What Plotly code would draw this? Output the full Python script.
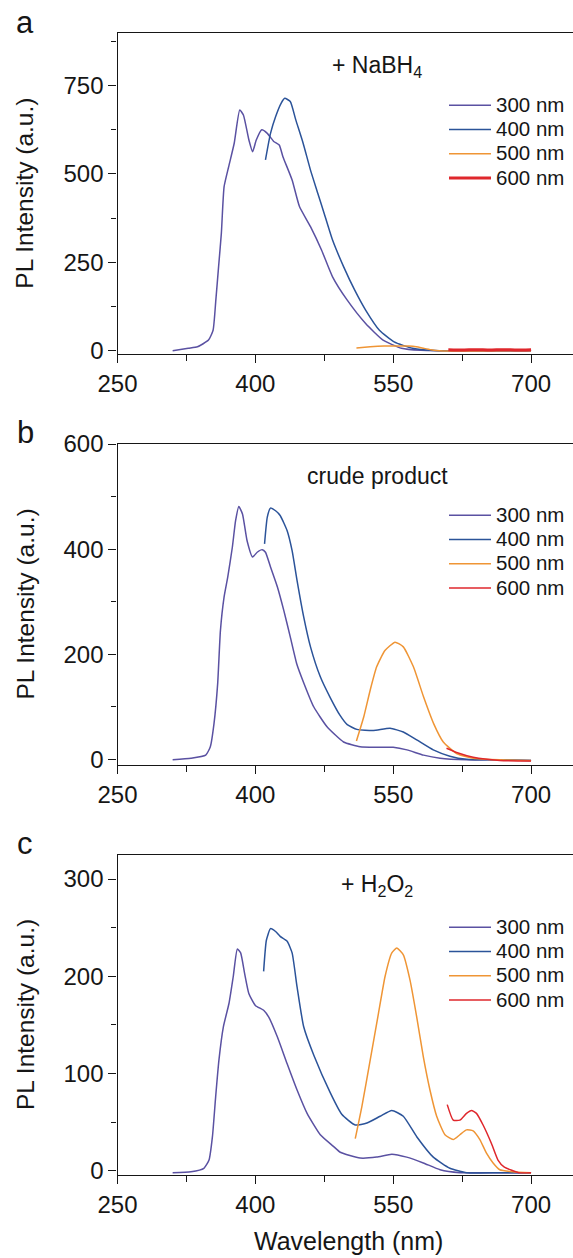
import plotly.graph_objects as go

# ---------------------------------------------------------------- data
# Emission spectra (wavelength in nm, PL intensity in a.u.) for four
# excitation wavelengths, under three sample conditions.
excitations = ["300 nm", "400 nm", "500 nm", "600 nm"]
colors = ["#5A51A2", "#2B5399", "#EF9535", "#DF272C"]

panel_letters = ["a", "b", "c"]
panel_notes = ["+ NaBH<sub>4</sub>", "crude product", "+ H<sub>2</sub>O<sub>2</sub>"]

x_ticks = [250, 400, 550, 700]

# (a) + NaBH4
a_300_nm = [310, 327, 337, 349, 354, 357, 360, 363, 366, 371, 377, 383, 387, 393, 397, 401,
            407, 413, 420, 426, 430, 440, 448, 460, 472, 484, 500, 520, 539, 559, 580, 600, 650, 700]
a_300_pl = [0, 7, 11, 30, 58, 143, 238, 332, 464, 521, 587, 681, 667, 596, 563, 596,
            625, 615, 592, 582, 549, 483, 408, 351, 285, 209, 143, 77, 30, 7, 1, 0, 0, 0]
a_400_nm = [411, 416.5, 422, 428, 432, 438, 444, 452, 460, 468, 476, 484, 496, 508, 520,
            535, 551, 571, 600, 650, 700]
a_400_pl = [540, 615, 662, 700, 714, 705, 653, 587, 511, 445, 379, 313, 238, 172, 115,
            58, 25, 7, 0, 0, 0]
a_500_nm = [510, 525, 540, 555, 567, 575, 583, 591, 600, 640, 700]
a_500_pl = [8, 11, 13, 13.5, 13, 11, 7, 3, 0, -1, 0]
a_600_nm = [610, 625, 640, 655, 670, 685, 700]
a_600_pl = [3, 2, 3, 2, 3, 2, 3]

# (b) crude product
b_300_nm = [310, 330, 346, 351, 355, 359, 362, 366, 370, 375, 378.5, 382, 386, 391, 397, 402,
            407.5, 411, 416.5, 424, 431, 438, 445, 453, 463.5, 478, 496, 514, 532, 550, 565,
            583, 601, 630, 666, 700]
b_300_pl = [-1, 2, 8, 24, 68, 144, 245, 309, 347, 404, 454, 481, 467, 416, 385, 394,
            399, 394, 366, 328, 283, 233, 182, 144, 100, 62, 33, 24, 23, 23, 18,
            8, 2, -1, -1, -2]
b_400_nm = [410, 413, 416.5, 422, 427, 434.6, 440, 445.4, 452.6, 460, 470.7, 481.6, 492,
            500, 510.5, 528.5, 546.6, 561, 575.6, 593.6, 611.7, 630, 666, 700]
b_400_pl = [410, 461, 478, 473, 464, 435, 397, 340, 271, 214, 157, 117, 84,
            66, 57, 55, 59, 52, 37, 18, 6, 0, -1, -2]
b_500_nm = [510, 518, 525, 532, 541, 552, 561, 572, 583, 594, 604.5, 619, 637, 666, 700]
b_500_pl = [35, 81, 132, 176, 207, 223, 214, 176, 119, 68, 33, 11, 2, -1, -2]
b_600_nm = [608, 619, 637, 666, 700]
b_600_pl = [21, 13, 4, -2, -3]

# (c) + H2O2
c_300_nm = [310, 330, 344, 349.6, 353.3, 356.8, 360.4, 365.2, 371.3, 376, 380.4, 384, 388.3,
            393, 400, 409, 414.6, 423.8, 434.6, 445.4, 456.3, 470.7, 485, 492.4, 514, 532,
            548.5, 564.7, 582.8, 601, 622.5, 666, 700]
c_300_pl = [-2, -1, 2.5, 11, 35, 76, 114, 148, 172, 200, 228, 224, 203,
            182, 170, 165, 158, 138, 110, 83, 59, 37, 25, 19, 13, 14,
            17, 14, 8, 1, -2, -2, -2]
c_400_nm = [409, 412, 416.5, 422, 427, 434.6, 440, 445.4, 452.6, 463.5, 481.6, 494, 508.7,
            521.4, 535.8, 548.5, 561, 575.6, 593.6, 611.7, 630, 666, 700]
c_400_pl = [205, 237, 249, 246, 241, 236, 224, 189, 148, 119, 80, 58, 47,
            49, 56, 62, 56, 35, 14, 2.5, -2, -2, -2]
c_500_nm = [508.7, 515.9, 525, 534, 541.2, 548.5, 553.9, 561, 568.3, 575.6, 582.8, 590,
            597.3, 606.3, 615.3, 622.5, 629.8, 637, 644.3, 651.5, 658.7, 666, 680, 700]
c_500_pl = [33, 66, 114, 162, 200, 224, 229, 222, 196, 158, 117, 83,
            56, 37, 32, 37, 42, 41, 32, 18, 8, 1, -1, -2]
c_600_nm = [608.8, 615.3, 622.5, 629.8, 635.2, 640.6, 647.8, 656.9, 664, 670.6, 686.4, 700]
c_600_pl = [68, 52, 52, 59, 62, 59, 47, 28, 11, 4, -2, -2]

panels = [
    [(a_300_nm, a_300_pl), (a_400_nm, a_400_pl), (a_500_nm, a_500_pl), (a_600_nm, a_600_pl)],
    [(b_300_nm, b_300_pl), (b_400_nm, b_400_pl), (b_500_nm, b_500_pl), (b_600_nm, b_600_pl)],
    [(c_300_nm, c_300_pl), (c_400_nm, c_400_pl), (c_500_nm, c_500_pl), (c_600_nm, c_600_pl)],
]

# ---------------------------------------------------------------- layout
W, H = 573, 1258
FONT = "Liberation Sans, Arial, Helvetica, sans-serif"
INK = "#161616"


def px(x):
    return x / W


def py(y):
    return 1 - y / H


# pixel geometry of each panel: (top, bottom) of the frame
frames = [(33.3, 354.0), (444.0, 765.0), (855.0, 1175.0)]
y_ranges = [[-9.3, 898], [-10.8, 600], [-4.4, 324.7]]
y_dticks = [250, 200, 100]
x_left, nm_per_px = 117.5, 1 / 0.919
x_range = [250, 250 + (W - x_left) * nm_per_px]

legend_rows_top = [88.0, 498.0, 910.0]
note_y = [66.0, 476.0, 885.0]
letter_y = [23.0, 432.0, 843.0]
LEGEND_ROW_FONT = 16.4   # sets the row pitch of the legend
LEGEND_TEXT_SIZE = 20.5  # visible size of the legend labels
line_widths = [1.5, 1.5, 1.5, 1.5]
red_width_a = 3.0

fig = go.Figure()

for p, series in enumerate(panels):
    sfx = "" if p == 0 else str(p + 1)
    leg = "legend" + sfx
    for k, (nm, pl) in enumerate(series):
        w = line_widths[k]
        if p == 0 and k == 3:
            w = red_width_a
        fig.add_trace(go.Scatter(
            x=nm, y=pl, mode="lines",
            name=f'<span style="font-size:{LEGEND_TEXT_SIZE}px">{excitations[k]}</span>',
            line=dict(color=colors[k], width=w, shape="spline", smoothing=0.5),
            xaxis="x" + sfx, yaxis="y" + sfx, legend=leg,
        ))

    top, bot = frames[p]
    axis_common = dict(
        showline=True, linecolor=INK, linewidth=1.3, showgrid=False, zeroline=False,
        ticks="outside", ticklen=8, tickwidth=1.3, tickcolor=INK, automargin=False,
        tickfont=dict(family=FONT, size=24, color=INK),
    )
    fig.update_layout(**{
        "xaxis" + sfx: dict(
            axis_common, domain=[px(x_left), 1.0], range=x_range, anchor="y" + sfx,
            tickvals=x_ticks, mirror=True,
            minor=dict(ticks="outside", ticklen=6, tickwidth=1.3, tickcolor=INK, dtick=75, tick0=250),
        ),
        "yaxis" + sfx: dict(
            axis_common, domain=[py(bot), py(top)], range=y_ranges[p], anchor="x" + sfx,
            tick0=0, dtick=y_dticks[p], ticklabelstandoff=0,
            minor=dict(ticks="outside", ticklen=5, tickwidth=1.3, tickcolor=INK,
                       dtick=y_dticks[p] / 2, tick0=0),
        ),
        leg: dict(
            x=px(444), y=py(legend_rows_top[p]), xanchor="left", yanchor="top",
            font=dict(family=FONT, size=LEGEND_ROW_FONT, color=INK), bgcolor="rgba(0,0,0,0)",
            borderwidth=0, itemwidth=42, tracegroupgap=0,
        ),
    })

    # panel letter, condition note and y-axis title
    fig.add_annotation(text=panel_letters[p], x=px(25), y=py(letter_y[p]), xref="paper", yref="paper",
                       showarrow=False, xanchor="center", yanchor="middle",
                       font=dict(family=FONT, size=31, color=INK))
    fig.add_annotation(text=panel_notes[p], x=px(377), y=py(note_y[p]), xref="paper", yref="paper",
                       showarrow=False, xanchor="center", yanchor="middle",
                       font=dict(family=FONT, size=23, color=INK))
    fig.add_annotation(text="PL Intensity (a.u.)", x=px(25), y=py((top + bot) / 2),
                       xref="paper", yref="paper", showarrow=False, textangle=-90,
                       xanchor="center", yanchor="middle",
                       font=dict(family=FONT, size=24.5, color=INK))

fig.add_annotation(text="Wavelength (nm)", x=px(348), y=py(1241), xref="paper", yref="paper",
                   showarrow=False, xanchor="center", yanchor="middle",
                   font=dict(family=FONT, size=25, color=INK))

fig.update_layout(
    template="none",
    width=W, height=H, margin=dict(l=0, r=0, t=0, b=0, pad=0),
    paper_bgcolor="white", plot_bgcolor="white", showlegend=True,
)

fig.write_html("out.html")
